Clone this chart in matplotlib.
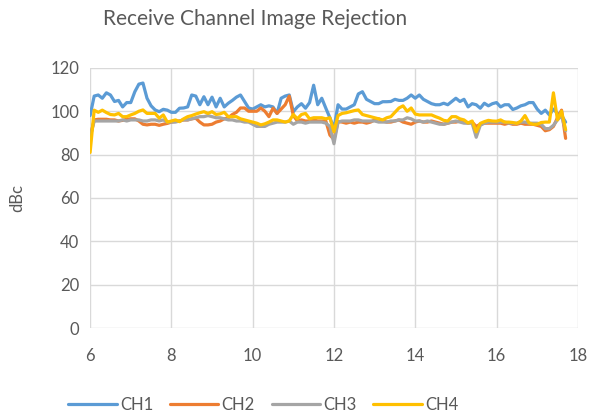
import numpy as np
import matplotlib
matplotlib.use('Agg')
import matplotlib.pyplot as plt

plt.rcParams['font.family'] = ['Lato', 'DejaVu Sans']

# frequency sweep (GHz), 0.1 GHz steps
freq = np.round(np.arange(6.0, 17.75, 0.1), 1)

ch1 = [98, 107, 107.5, 106, 108.5, 107.5, 104.5, 105, 102, 104,
       104, 109, 112.5, 113, 106, 102.5, 100.6, 99.8, 100.9, 100.5,
       99.5, 99.5, 101.4, 101.5, 102, 107.5, 107, 103, 106.7, 103,
       106.5, 102, 106, 102, 103.7, 105, 106.5, 107.5, 104.5, 101.5,
       101, 102, 103, 102, 102.5, 102, 99, 106, 107, 107.5,
       99.8, 102, 103.5, 101.4, 104, 112, 103, 106, 101.4, 97,
       92, 103, 101, 101, 102, 103, 108, 109, 105.5, 104.5,
       103.5, 103.5, 104.4, 104.4, 104.5, 105.5, 105, 105, 106, 107.5,
       106, 107.5, 105.5, 104.5, 103.5, 103, 103, 103.7, 103, 104.5,
       106, 104.5, 105.5, 102, 103.5, 103, 101.4, 103.7, 102.5, 103.5,
       104, 102, 103, 103, 100.8, 101.5, 102.5, 103, 104, 104,
       101, 99, 100.5, 98.3, 101, 99, 98, 95]

ch2 = [88, 96, 96.3, 96.3, 96.3, 96, 96, 95.5, 95.8, 96.3,
       96.5, 96.5, 95.5, 94, 93.7, 94, 94, 93.5, 94, 94.4,
       95, 95.3, 95.5, 96, 96, 96.5, 96.8, 95, 93.7, 93.7,
       94, 95, 95.5, 96.5, 97, 98.5, 99.5, 101.5, 101.5, 100,
       100, 100, 101.5, 100, 97.5, 101.4, 99, 101, 103, 107,
       98, 95.5, 96, 95.5, 95.5, 96, 95.5, 95.5, 95.5, 89,
       87, 95.2, 95, 94.5, 95, 94.5, 95, 95, 94.5, 95,
       96, 96.5, 95.5, 95, 95, 95.5, 96, 95, 94.5, 94,
       95, 95.5, 95, 95, 95.5, 95, 94.5, 94, 94.5, 95,
       95, 95.5, 95, 94.5, 95, 93, 94, 94.5, 94.5, 94.5,
       94.5, 94.5, 94, 94.5, 94, 94, 94.5, 94, 94, 94,
       93.5, 93, 91, 91.5, 93, 97, 100.5, 87.5]

ch3 = [88, 95.5, 95.5, 95.5, 95.5, 95.5, 95.5, 95.5, 96, 95.5,
       96, 96, 96, 95.5, 95.5, 96, 96, 95.5, 96, 95,
       95, 95, 95.5, 96, 96, 96.5, 97, 97.5, 97.5, 98,
       97.5, 97, 97, 96.5, 96, 96, 95.5, 95.5, 95, 95,
       94, 93, 93, 93, 94, 94.5, 95, 95, 95, 95.5,
       94, 95, 95, 94.5, 95, 95, 95, 95, 94.5, 93,
       85, 95, 95.5, 95.5, 95.5, 96, 96, 95.5, 95.5, 95.5,
       95.5, 95, 95, 95, 95.5, 95.5, 96, 96, 97, 96.5,
       95.5, 95.5, 95, 95.5, 95, 94.5, 94, 94, 94.5, 95,
       95.5, 95, 94.5, 94.5, 94.5, 88, 93.5, 94.5, 95, 95,
       95, 95, 95, 94.5, 94.5, 94.5, 95, 95, 94.5, 94.5,
       94.5, 94, 92, 92, 93.5, 96, 98, 91]

ch4 = [81, 100.5, 99.5, 100.5, 99.4, 98.5, 98.3, 99, 97.5, 97.5,
       98.3, 99, 100, 100.6, 99, 99, 99, 96.8, 98.3, 95,
       95.5, 96, 95.2, 96.5, 97.5, 98, 98.7, 99.3, 99.8, 99,
       99.8, 98.5, 98.8, 99.5, 97.5, 97.5, 97.5, 96.5, 96, 95.5,
       95, 94.5, 93.7, 94.2, 95, 96, 96, 95.5, 95, 95.5,
       98.5, 96.5, 98.5, 99, 96.5, 97, 97, 97, 96.5, 97,
       90.5, 98, 99, 99.3, 99.8, 100.3, 100.6, 98.5, 98, 97.5,
       97, 96.5, 96, 97, 97.5, 99.5, 101.5, 102.5, 100, 101.5,
       98.7, 98.3, 98.3, 98.3, 98.3, 97.5, 96.8, 95.8, 95.5, 97.5,
       97.5, 96.5, 96, 94.6, 95.5, 90.5, 94.4, 95.2, 95.8, 95.5,
       95.4, 96, 95, 95, 94.8, 94.4, 95.5, 98, 94.6, 94,
       94, 94.8, 95, 95, 108.5, 96, 100, 91.5]

series = [('CH1', ch1, '#5B9BD5'), ('CH2', ch2, '#ED7D31'),
          ('CH3', ch3, '#A5A5A5'), ('CH4', ch4, '#FFC000')]

fig = plt.figure(figsize=(5.89, 4.19), dpi=100)
ax = fig.add_axes([0.153, 0.217, 0.828, 0.621])

for name, vals, col in series:
    ax.plot(freq, vals, color=col, lw=2.3, label=name, solid_capstyle='round')

ax.set_xlim(6, 18)
ax.set_ylim(0, 120)
ax.set_xticks(range(6, 19, 2))
ax.set_yticks(range(0, 121, 20))
ax.grid(True, color='#D9D9D9', lw=1)
ax.set_axisbelow(True)
for s in ax.spines.values():
    s.set_visible(False)
ax.tick_params(length=0, labelsize=12, labelcolor='#595959', pad=8)
ax.tick_params(axis='x', pad=14)
ax.set_ylabel('dBc', fontsize=12, color='#595959', labelpad=18)

fig.text(0.433, 0.955, 'Receive Channel Image Rejection', ha='center', va='center',
         fontsize=15, color='#595959')

fig.legend(loc='center', bbox_to_anchor=(0.447, 0.033), ncol=4, frameon=False,
           fontsize=12, handlelength=2.9, columnspacing=1.0, handletextpad=0.2,
           labelcolor='#595959')

fig.savefig('out.png', dpi=100)
